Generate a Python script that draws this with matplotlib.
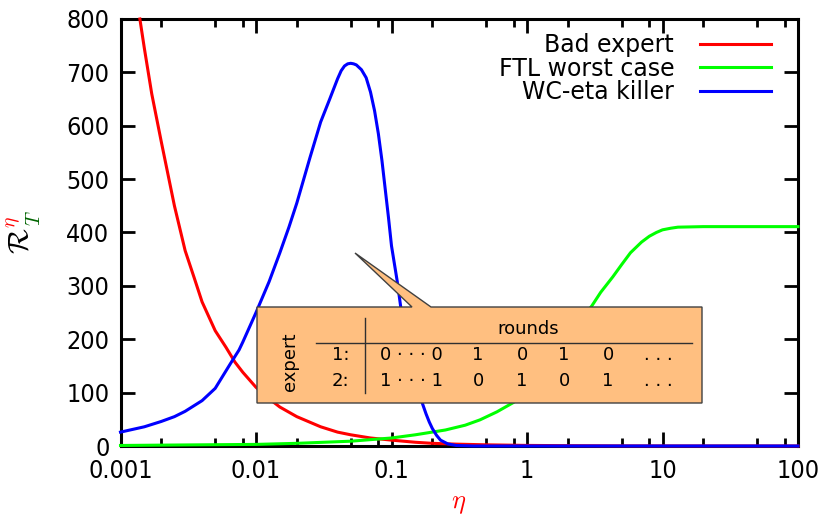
import numpy as np
import matplotlib
matplotlib.use("Agg")
import matplotlib.pyplot as plt
from matplotlib.patches import Polygon
from matplotlib.lines import Line2D
from matplotlib.ticker import FixedLocator, NullFormatter

plt.rcParams['mathtext.fontset'] = 'cm'
plt.rcParams['font.family'] = ['DejaVu Sans']

# values
eta_bad = [0.00139, 0.0015, 0.0017, 0.002, 0.0025, 0.003, 0.0035, 0.004, 0.005, 0.006,
           0.007, 0.008, 0.01, 0.012, 0.015, 0.02, 0.03, 0.04, 0.05, 0.07, 0.1, 0.15,
           0.2, 0.3, 0.5, 1, 2, 5, 10, 100]
bad_expert = [800, 745, 660, 570, 450, 366, 315, 270, 216, 185,
              157, 138, 110, 92, 73, 55, 36, 26, 21, 15, 11, 7,
              5, 3.5, 2.2, 1.1, 0.6, 0.2, 0.1, 0.01]

eta_ftl = [0.001, 0.003, 0.01, 0.02, 0.05, 0.1, 0.15, 0.25, 0.35, 0.45, 0.6, 0.8, 1,
           1.2, 1.4, 1.85, 2.45, 3, 3.5, 4.3, 5, 5.8, 7, 8, 9, 10, 11.5, 13, 20, 100]
ftl_worst = [1, 2, 3, 5, 9, 15, 21, 30, 39, 49, 64, 82, 106,
             126, 148, 193, 236, 262, 288, 317, 340, 362, 382, 393, 400, 405, 408, 410, 411, 411]

eta_wc = [0.001, 0.0015, 0.002, 0.0025, 0.003, 0.004, 0.005, 0.0065, 0.0075, 0.008,
          0.01, 0.0125, 0.015, 0.0175, 0.02, 0.025, 0.0275, 0.03, 0.035, 0.04, 0.0425,
          0.045, 0.0475, 0.05, 0.0525, 0.055, 0.06, 0.065, 0.07, 0.075, 0.08, 0.085,
          0.09, 0.095, 0.1, 0.11, 0.12, 0.13, 0.14, 0.15, 0.16, 0.17, 0.18, 0.19,
          0.2, 0.215, 0.23, 0.26, 0.3, 0.4, 1, 10, 100]
wc_killer = [26, 36, 46, 55, 65, 85, 108, 155, 180, 195,
             250, 308, 362, 410, 455, 540, 575, 607, 650, 688, 703,
             712, 716, 717, 716, 714, 705, 690, 663, 628, 585, 535,
             480, 428, 375, 310, 240, 200, 165, 130, 100, 78, 60, 45,
             33, 20, 11, 4, 1, 0, 0, 0, 0]

xticks = [0.001, 0.01, 0.1, 1, 10, 100]
xticklabels = ['0.001', '0.01', '0.1', '1', '10', '100']
yticks = [0, 100, 200, 300, 400, 500, 600, 700, 800]

row1 = ['0 · · · 0', '1', '0', '1', '0', '. . .']
row2 = ['1 · · · 1', '0', '1', '0', '1', '. . .']

W, H = 821, 519
fig = plt.figure(figsize=(W / 100, H / 100), dpi=100)
ax = fig.add_axes([120.5 / W, 1 - 446 / H, (798 - 120.5) / W, (446 - 19) / H])

def px(x, y):
    return (x / W, 1 - y / H)

ax.plot(eta_bad, bad_expert, color='#ff0000', lw=2.2, label='Bad expert', clip_on=False, zorder=3)
ax.plot(eta_ftl, ftl_worst, color='#00ff00', lw=2.2, label='FTL worst case', clip_on=False, zorder=3)
ax.plot(eta_wc, wc_killer, color='#0000ff', lw=2.2, label='WC-eta killer', clip_on=False, zorder=3)

ax.set_xscale('log')
ax.set_xlim(0.001, 100)
ax.set_ylim(0, 800)
ax.set_xticks(xticks)
ax.set_xticklabels(xticklabels)
minor = [m * 10.0 ** k for k in range(-3, 2) for m in (2, 5, 8)]
ax.xaxis.set_minor_locator(FixedLocator(minor))
ax.xaxis.set_minor_formatter(NullFormatter())
ax.set_yticks(yticks)
ax.tick_params(which='both', direction='in', top=True, right=True, width=2)
ax.tick_params(which='major', length=10, pad=8, labelsize=18)
ax.tick_params(axis='x', which='major', pad=9)
ax.tick_params(which='minor', length=5.5)
for lab in ax.get_xticklabels() + ax.get_yticklabels():
    lab.set_fontstretch('condensed')
for s in ax.spines.values():
    s.set_linewidth(2.2)

leg = ax.legend(loc='upper right', bbox_to_anchor=px(771, 33), bbox_transform=fig.transFigure,
                frameon=False, markerfirst=False, fontsize=17, borderpad=0, borderaxespad=0,
                handlelength=3.0, handletextpad=1.1, labelspacing=-0.02)

# axis labels
fig.text(*px(459, 503), r'$\eta$', color='#ff0000', fontsize=19, ha='center', va='center')
fig.text(*px(19, 241), r'$\mathcal{R}$', color='black', fontsize=21, rotation=90, ha='center', va='center')
fig.text(*px(12, 222), r'$\eta$', color='#ff0000', fontsize=14, rotation=90, ha='center', va='center')
fig.text(*px(34, 218), r'$T$', color='#006400', fontsize=14, rotation=90, ha='center', va='center')

# callout box with the table
pts = [px(257, 307), px(412, 307), px(355, 253), px(431, 307), px(702, 307),
       px(702, 403), px(257, 403)]
fig.add_artist(Polygon(pts, closed=True, transform=fig.transFigure, facecolor='#ffbf80',
                       edgecolor='#404040', lw=1.0, zorder=5))
fig.add_artist(Line2D(*zip(px(365, 318), px(365, 393)), transform=fig.transFigure,
                      color='#303030', lw=1.0, zorder=6))
fig.add_artist(Line2D(*zip(px(316, 343), px(692, 343)), transform=fig.transFigure,
                      color='#303030', lw=1.0, zorder=6))
fig.text(*px(290, 362), 'expert', rotation=90, fontsize=13, ha='center', va='center', zorder=7)
fig.text(*px(528, 329), 'rounds', fontsize=13, ha='center', va='center', zorder=7)
fig.text(*px(349, 355), '1:', fontsize=13, ha='right', va='center', zorder=7)
fig.text(*px(349, 381), '2:', fontsize=13, ha='right', va='center', zorder=7)
cols = [411, 478, 522, 564, 608, 658]
for c, a, b in zip(cols, row1, row2):
    fig.text(*px(c, 355), a, fontsize=13, ha='center', va='center', zorder=7)
    fig.text(*px(c, 381), b, fontsize=13, ha='center', va='center', zorder=7)

fig.savefig('out.png', dpi=100)
